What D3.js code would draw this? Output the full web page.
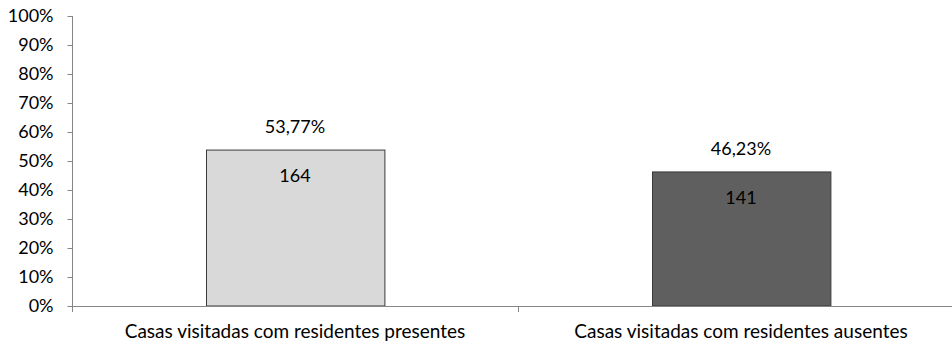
<!DOCTYPE html>
<html>
<head>
<meta charset="utf-8">
<script src="https://cdn.jsdelivr.net/npm/d3@7"></script>
<style>
  html, body { margin: 0; padding: 0; background: #fff; }
  svg text { font-family: Lato, "Open Sans", sans-serif; fill: #000; }
</style>
</head>
<body>
<svg id="chart" width="952" height="343"></svg>
<script>
// Household visits by residents' presence
const categories = ["Casas visitadas com residentes presentes", "Casas visitadas com residentes ausentes"];
const shares = [53.77, 46.23];
const counts = [164, 141];
const shareLabels = ["53,77%", "46,23%"];
const barColors = ["#d9d9d9", "#5f5f5f"];
const yTicks = [0, 10, 20, 30, 40, 50, 60, 70, 80, 90, 100];

const svg = d3.select("#chart");
const plotLeft = 72, plotRight = 964, plotTop = 16, plotBottom = 306;
const tickFont = 18, catFont = 19, valueFont = 18;

const x = d3.scaleBand().domain(categories).range([plotLeft, plotRight]).paddingInner(0.6).paddingOuter(0.3);
const xBand = d3.scaleBand().domain(categories).range([plotLeft, plotRight]);
const y = d3.scaleLinear().domain([0, 100]).range([plotBottom, plotTop]);

const axisColor = "#868686";

// Y axis
const yAxis = svg.append("g")
  .attr("transform", `translate(${plotLeft + 0.5},0)`)
  .call(d3.axisLeft(y).tickValues(yTicks).tickSize(5).tickPadding(14).tickFormat(d => d + "%"));
yAxis.selectAll("path, line").attr("stroke", axisColor);
yAxis.select(".domain").attr("d", `M0,${plotTop}V${plotBottom}`);
yAxis.selectAll("text").attr("font-size", tickFont).attr("font-family", "Lato, sans-serif").attr("fill", "#000");

// Bars
svg.selectAll("rect.bar").data(categories).join("rect")
  .attr("class", "bar")
  .attr("x", d => Math.round(x(d)) + 0.5)
  .attr("y", (d, i) => y(shares[i]))
  .attr("width", x.bandwidth())
  .attr("height", (d, i) => plotBottom - y(shares[i]))
  .attr("fill", (d, i) => barColors[i])
  .attr("stroke", "#3a3a3a")
  .attr("stroke-width", 1);

// X axis line and category separators
const g = svg.append("g");
g.append("line").attr("x1", plotLeft).attr("x2", plotRight).attr("y1", plotBottom + 0.5).attr("y2", plotBottom + 0.5)
  .attr("stroke", axisColor);
const bounds = [plotLeft, xBand(categories[1]), plotRight];
g.selectAll("line.sep").data(bounds).join("line")
  .attr("class", "sep")
  .attr("x1", d => Math.round(d) + 0.5).attr("x2", d => Math.round(d) + 0.5)
  .attr("y1", plotBottom).attr("y2", plotBottom + 6)
  .attr("stroke", axisColor);

// Category labels
svg.selectAll("text.cat").data(categories).join("text")
  .attr("class", "cat")
  .attr("x", d => x(d) + x.bandwidth() / 2)
  .attr("y", 338)
  .attr("text-anchor", "middle")
  .attr("font-size", catFont)
  .text(d => d);

// Percentage labels above bars
svg.selectAll("text.pct").data(categories).join("text")
  .attr("class", "pct")
  .attr("x", d => x(d) + x.bandwidth() / 2)
  .attr("y", (d, i) => y(shares[i]) - 17)
  .attr("text-anchor", "middle")
  .attr("font-size", valueFont)
  .text((d, i) => shareLabels[i]);

// Counts inside bars
svg.selectAll("text.cnt").data(categories).join("text")
  .attr("class", "cnt")
  .attr("x", d => x(d) + x.bandwidth() / 2)
  .attr("y", (d, i) => y(shares[i]) + 32)
  .attr("text-anchor", "middle")
  .attr("font-size", valueFont)
  .text((d, i) => counts[i]);
</script>
</body>
</html>
